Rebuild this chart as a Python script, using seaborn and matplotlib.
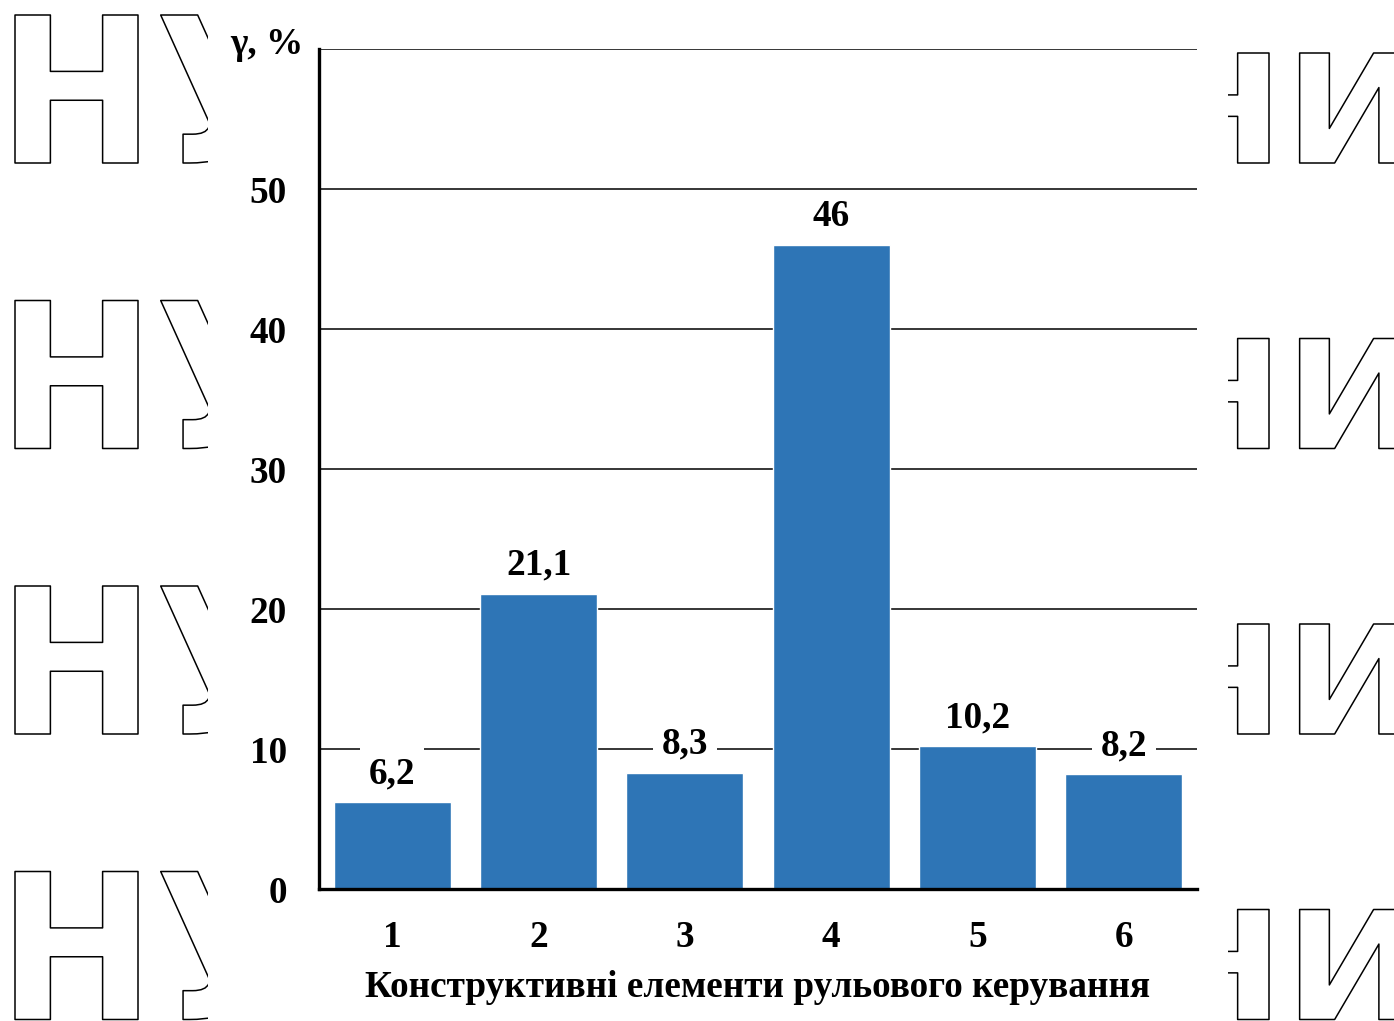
import matplotlib
matplotlib.use("Agg")
import matplotlib.pyplot as plt
import seaborn as sns
import pandas as pd
from matplotlib.textpath import TextPath
from matplotlib.patches import PathPatch, Rectangle
from matplotlib.font_manager import FontProperties
from matplotlib.transforms import Affine2D

# Share of failures by steering-control component
categories = ["1", "2", "3", "4", "5", "6"]
shares = [6.2, 21.1, 8.3, 46, 10.2, 8.2]
share_labels = ["6,2", "21,1", "8,3", "46", "10,2", "8,2"]
y_ticks = [0, 10, 20, 30, 40, 50]
y_top = 60
y_label = "γ, %"
x_label = "Конструктивні елементи рульового керування"

W, H = 1394, 1021
BAR_COLOR = "#2E75B6"
FS = 26.8

sns.set_theme(style="white", rc={"text.color": "black", "xtick.color": "black",
                                 "ytick.color": "black", "axes.labelcolor": "black"})
plt.rcParams["font.family"] = ["Liberation Serif", "DejaVu Serif"]
plt.rcParams["font.weight"] = "bold"

fig = plt.figure(figsize=(W / 100, H / 100), dpi=100)
fig.patch.set_facecolor("white")

# Outlined background lettering on both sides of the plot
fp = FontProperties(family="DejaVu Sans", weight="bold")
ref = TextPath((0, 0), "Н", size=1, prop=fp).get_extents()


def outline_word(text, x_left, y_bottom, cap_h, glyph_w, clip_x0, clip_x1):
    tp = TextPath((0, 0), text, size=1, prop=fp)
    sy = cap_h / ref.height
    sx = glyph_w / ref.width
    tr = (Affine2D().translate(-ref.x0, -ref.y0).scale(sx, sy)
          .translate(x_left, H - y_bottom).scale(1 / W, 1 / H) + fig.transFigure)
    patch = PathPatch(tp, transform=tr, facecolor="none", edgecolor="black",
                      lw=1.1, joinstyle="round")
    clip = Rectangle((clip_x0 / W, 0), (clip_x1 - clip_x0) / W, 1,
                     transform=fig.transFigure, facecolor="none", edgecolor="none")
    fig.add_artist(patch)
    patch.set_clip_path(clip)


for i in range(4):
    yb = 163 + 285.5 * i
    outline_word("НУ", 15, yb, 148, 123, 0, 208)
    outline_word("НИ", 1160, yb, 110, 109, 1228, W)

ax = fig.add_axes([319 / W, 1 - 889 / H, (1197 - 319) / W, (889 - 49) / H])
ax.set_facecolor("none")

df = pd.DataFrame({"element": categories, "share": shares})
sns.barplot(data=df, x="element", y="share", color=BAR_COLOR, saturation=1,
            width=0.8, ax=ax, zorder=3)

ax.set_xlim(-0.5, 5.5)
ax.set_ylim(0, y_top)
ax.set_yticks(y_ticks)
ax.set_yticklabels([str(t) for t in y_ticks])

for t in y_ticks[1:] + [y_top]:
    ax.axhline(t, color="black", lw=1.1, zorder=1)

for spine in ["top", "right"]:
    ax.spines[spine].set_visible(False)
for spine in ["left", "bottom"]:
    ax.spines[spine].set_color("black")
    ax.spines[spine].set_linewidth(2.4)
    ax.spines[spine].set_zorder(4)

ax.tick_params(axis="both", length=0, labelsize=FS, colors="black")
ax.tick_params(axis="y", pad=23)
ax.tick_params(axis="x", pad=22)
for lab in ax.get_xticklabels() + ax.get_yticklabels():
    lab.set_fontweight("bold")

ax.set_xlabel(x_label, fontsize=FS, fontweight="bold", labelpad=11, color="black")
ax.set_ylabel("")

for i, (v, s) in enumerate(zip(shares, share_labels)):
    ax.annotate(s, xy=(i, v), xytext=(0, 8), textcoords="offset points",
                ha="center", va="bottom", fontsize=FS, fontweight="bold",
                color="black", zorder=5,
                bbox=dict(facecolor="white", edgecolor="none", pad=6.5))

fig.text(267 / W, 1 - 45 / H, y_label, ha="center", va="center",
         fontsize=FS, fontweight="bold", color="black")

fig.savefig("out.png", dpi=100, facecolor="white")
